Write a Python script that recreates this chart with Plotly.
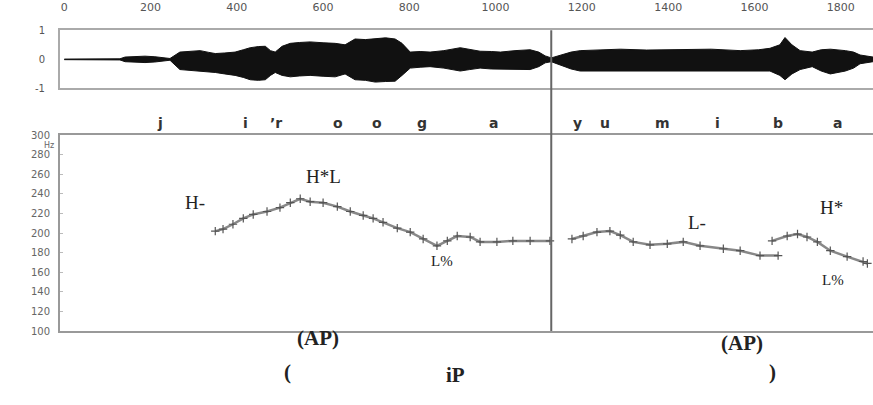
import plotly.graph_objects as go

# ---------------- data ----------------
# time axis ticks (ms)
time_ticks = [0, 200, 400, 600, 800, 1000, 1200, 1400, 1600, 1800]

# waveform envelope (ms, upper, lower amplitude)
wave_ms = [0, 129, 141, 165, 187, 210, 234, 245, 268, 290, 315, 335, 350, 372, 396, 415, 431, 450, 466,
           478, 489, 505, 524, 545, 570, 600, 628, 651, 674, 698, 721, 745, 767, 783, 802, 825, 848,
           880, 918, 940, 964, 990, 1011, 1045, 1080, 1100, 1115, 1129, 1150, 1175, 1196, 1240, 1289,
           1350, 1428, 1500, 1567, 1610, 1636, 1659, 1671, 1687, 1706, 1734, 1755, 1776, 1811, 1830,
           1845, 1875]
wave_hi = [0.01, 0.02, 0.08, 0.10, 0.11, 0.09, 0.06, 0.03, 0.25, 0.28, 0.30, 0.24, 0.20, 0.22, 0.25, 0.33,
           0.40, 0.44, 0.45, 0.30, 0.25, 0.45, 0.55, 0.58, 0.60, 0.57, 0.55, 0.50, 0.70, 0.68, 0.72, 0.74,
           0.70, 0.55, 0.25, 0.27, 0.25, 0.30, 0.40, 0.33, 0.28, 0.27, 0.25, 0.30, 0.33, 0.25, 0.12, 0.05,
           0.15, 0.25, 0.30, 0.33, 0.35, 0.32, 0.33, 0.35, 0.30, 0.33, 0.38, 0.50, 0.75, 0.50, 0.30, 0.25,
           0.33, 0.35, 0.30, 0.25, 0.15, 0.08]
wave_lo = [-0.01, -0.02, -0.08, -0.10, -0.11, -0.09, -0.06, -0.03, -0.35, -0.38, -0.40, -0.42, -0.45,
           -0.50, -0.55, -0.62, -0.70, -0.72, -0.70, -0.55, -0.45, -0.55, -0.60, -0.57, -0.55, -0.58,
           -0.60, -0.50, -0.70, -0.72, -0.78, -0.76, -0.75, -0.55, -0.30, -0.27, -0.25, -0.30, -0.40,
           -0.35, -0.30, -0.33, -0.33, -0.35, -0.35, -0.25, -0.12, -0.08, -0.20, -0.33, -0.40, -0.40,
           -0.40, -0.38, -0.38, -0.40, -0.38, -0.40, -0.40, -0.55, -0.70, -0.50, -0.35, -0.25, -0.40,
           -0.50, -0.40, -0.30, -0.15, -0.08]
wave_ticks = [-1, 0, 1]
wave_ticktext = ["-1", "0", "1"]

# F0 track segments (ms, Hz)
f0_ms_1 = [350, 368, 391, 415, 438, 470, 500, 524, 547, 570, 600, 633, 663, 693, 716, 739, 772, 802,
           832, 864, 888, 911, 941, 964, 1003, 1040, 1080, 1126]
f0_hz_1 = [202, 204, 209, 215, 219, 222, 226, 231, 235, 232, 231, 227, 222, 218, 215, 211, 205, 201,
           194, 187, 192, 197, 196, 191, 191, 192, 192, 192]
f0_ms_2 = [1177, 1203, 1235, 1265, 1289, 1319, 1358, 1398, 1435, 1474, 1528, 1567, 1613, 1655]
f0_hz_2 = [194, 197, 201, 202, 198, 191, 188, 189, 191, 187, 184, 182, 177, 177]
f0_ms_3 = [1641, 1676, 1700, 1722, 1746, 1776, 1815, 1852, 1862]
f0_hz_3 = [192, 197, 199, 196, 191, 182, 176, 171, 169]
hz_ticks = [100, 120, 140, 160, 180, 200, 220, 240, 260, 280, 300]

# boundary between the two phrases (ms)
boundary_ms = 1129

# segment labels (text, ms)
phones = ["j", "i", "’r", "o", "o", "g", "a", "y", "u", "m", "i", "b", "a"]
phone_ms = [222, 421, 491, 635, 725, 830, 994, 1191, 1254, 1388, 1514, 1655, 1792]

# tonal labels (text, ms, Hz)
tones = ["H-", "H*L", "L%", "L-", "H*", "L%"]
tone_ms = [304, 600, 876, 1467, 1778, 1752]
tone_hz = [231, 258, 172, 211, 226, 152]

# phrase labels (text, ms)
phrases = ["(AP)", "(", "iP", "(AP)", ")"]
phrase_ms = [589, 517, 908, 1572, 1643]

# ---------------- figure ----------------
W, H = 873, 405
def py(px):
    return 1 - px / H

fig = go.Figure()

fig.add_trace(go.Scatter(x=wave_ms, y=wave_hi, mode="lines", line=dict(color="#111", width=1),
                         xaxis="x", yaxis="y", hoverinfo="skip"))
fig.add_trace(go.Scatter(x=wave_ms, y=wave_lo, mode="lines", line=dict(color="#111", width=1),
                         fill="tonexty", fillcolor="#111", xaxis="x", yaxis="y", hoverinfo="skip"))

for xs, ys in [(f0_ms_1, f0_hz_1), (f0_ms_2, f0_hz_2), (f0_ms_3, f0_hz_3)]:
    fig.add_trace(go.Scatter(x=xs, y=ys, mode="lines+markers",
                             line=dict(color="#888", width=2.5),
                             marker=dict(symbol="cross-thin", size=6, line=dict(color="#555", width=1.2)),
                             xaxis="x2", yaxis="y2"))

xdom = [60 / W, 1]
xrange = [-10, 1875]

fig.update_layout(
    width=W, height=H, margin=dict(l=0, r=0, t=0, b=0),
    paper_bgcolor="white", plot_bgcolor="white", showlegend=False,
    xaxis=dict(domain=xdom, range=xrange, anchor="y", side="top", tickvals=time_ticks,
               ticks="outside", ticklen=13, tickcolor="rgba(0,0,0,0)",
               tickfont=dict(family="DejaVu Sans", size=11, color="#555"),
               showline=True, mirror=True, linecolor="#aaa", linewidth=2,
               showgrid=False, zeroline=False),
    yaxis=dict(domain=[py(85), py(25)], range=[-1, 1], anchor="x", tickvals=wave_ticks,
               ticktext=wave_ticktext, ticks="outside", ticklen=11, tickcolor="rgba(0,0,0,0)",
               tickfont=dict(family="DejaVu Sans", size=10, color="#555"),
               showline=True, linecolor="#aaa", linewidth=2, showgrid=False, zeroline=False),
    xaxis2=dict(domain=xdom, range=xrange, anchor="y2", matches="x", showticklabels=False,
                showline=True, mirror=True, linecolor="#999", linewidth=2,
                showgrid=False, zeroline=False, ticks=""),
    yaxis2=dict(domain=[py(335), py(133)], range=[100, 300], anchor="x2", tickvals=hz_ticks,
                ticks="inside", ticklen=3, tickcolor="#bbb", ticklabelstandoff=6,
                tickfont=dict(family="DejaVu Sans", size=10, color="#666"),
                showline=True, linecolor="#999", linewidth=2, showgrid=False, zeroline=False),
)

# boundary line through both panels
fig.add_shape(type="line", xref="x", yref="paper", x0=boundary_ms, x1=boundary_ms,
              y0=py(335), y1=py(25), line=dict(color="#666", width=2))

# Hz unit label
fig.add_annotation(text="Hz", xref="paper", yref="paper", x=42 / W, y=py(144), showarrow=False,
                   font=dict(family="DejaVu Sans", size=8, color="#666"))

for t, m in zip(phones, phone_ms):
    fig.add_annotation(text="<b>" + t + "</b>", xref="x", yref="paper", x=m, y=py(110), showarrow=False,
                       font=dict(family="DejaVu Sans", size=14, color="#333"))

tone_sizes = [19, 19, 15, 19, 19, 15]
for t, m, hz, s in zip(tones, tone_ms, tone_hz, tone_sizes):
    fig.add_annotation(text=t, xref="x2", yref="y2", x=m, y=hz, showarrow=False,
                       xanchor="left" if (t == "L%" and m > 1700) else "center",
                       font=dict(family="Liberation Serif", size=s, color="#222"))

phrase_y = [357, 392, 395, 362, 392]
for t, m, yy in zip(phrases, phrase_ms, phrase_y):
    fig.add_annotation(text="<b>" + t + "</b>", xref="x", yref="paper", x=m, y=py(yy), showarrow=False,
                       font=dict(family="Liberation Serif", size=21, color="#222"))

fig.write_html("out.html")
